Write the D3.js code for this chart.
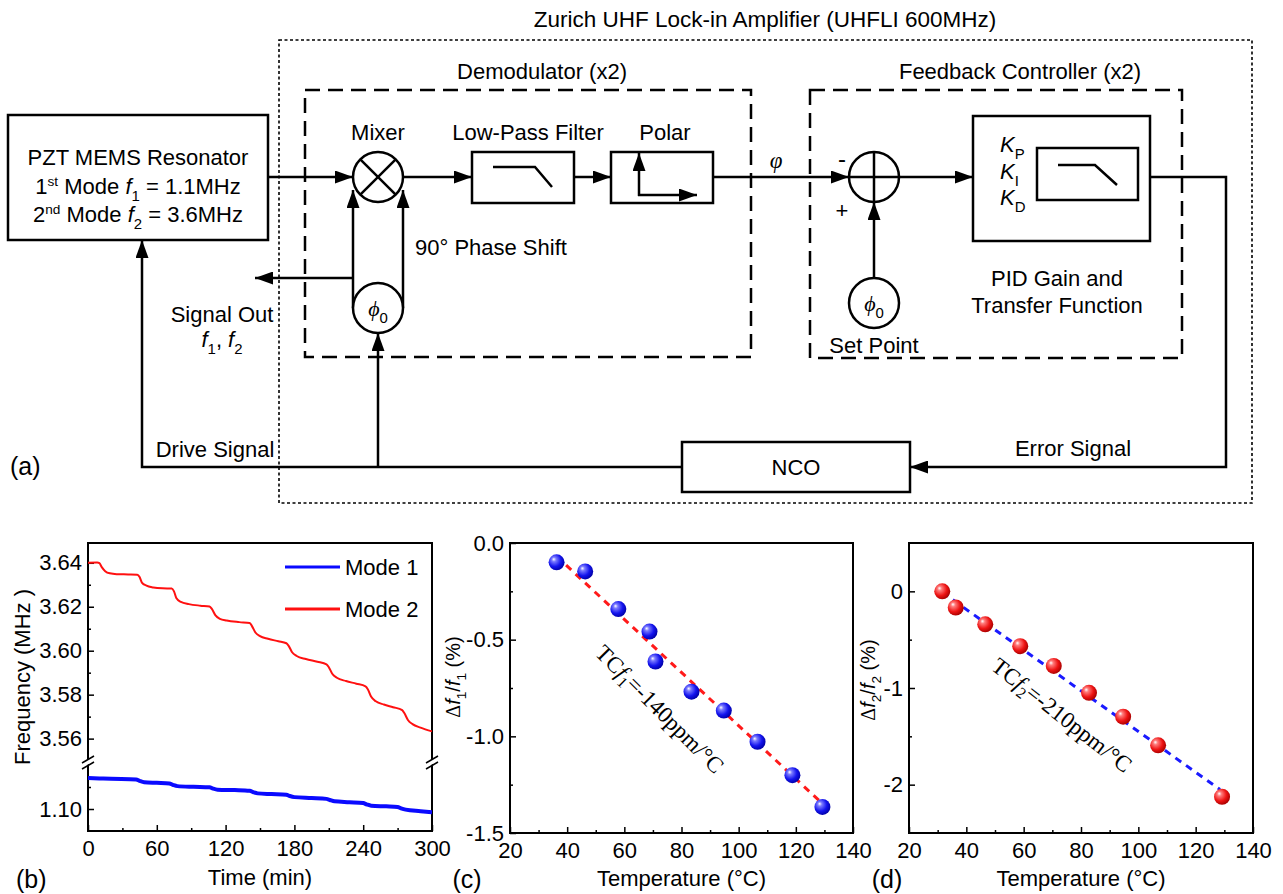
<!DOCTYPE html>
<html>
<head>
<meta charset="utf-8">
<script src="https://cdn.jsdelivr.net/npm/d3@7"></script>
<style>
  body { margin: 0; background: #fff; }
  svg text { font-family: "Liberation Sans", Arial, sans-serif; fill: #000; }
</style>
</head>
<body>
<div id="fig"></div>
<script>
// ---- data ----
// (b) frequency vs time
var timeMode2 = [0, 8, 10, 12, 15, 19, 25, 35, 43, 45, 47, 51, 57, 65, 73, 75, 77, 81, 88, 98, 106, 108, 111, 115, 121, 132, 141, 143, 146, 150, 157, 166, 173, 175, 178, 182, 190, 200, 208, 210, 213, 217, 225, 234, 242, 244, 247, 251, 258, 266, 274, 276, 279, 283, 290, 300];
var freqMode2 = [3.6400, 3.6401, 3.6398, 3.6380, 3.6362, 3.6352, 3.6348, 3.6347, 3.6346, 3.6335, 3.6310, 3.6296, 3.6288, 3.6284, 3.6283, 3.6270, 3.6240, 3.6222, 3.6212, 3.6205, 3.6201, 3.6190, 3.6162, 3.6145, 3.6137, 3.6130, 3.6126, 3.6112, 3.6083, 3.6066, 3.6054, 3.6043, 3.6034, 3.6022, 3.5993, 3.5976, 3.5962, 3.5950, 3.5938, 3.5925, 3.5895, 3.5877, 3.5862, 3.5850, 3.5838, 3.5825, 3.5790, 3.5770, 3.5755, 3.5743, 3.5730, 3.5715, 3.5685, 3.5666, 3.5650, 3.5633];
var timeMode1 = [0, 10, 20, 42, 45, 49, 60, 71, 74, 78, 92, 106, 109, 113, 128, 141, 144, 148, 160, 173, 176, 180, 195, 208, 211, 215, 228, 240, 243, 247, 260, 270, 273, 277, 290, 300];
var freqMode1 = [1.1141, 1.1139, 1.1137, 1.1134, 1.1128, 1.1122, 1.1119, 1.1116, 1.1110, 1.1104, 1.1101, 1.1099, 1.1093, 1.1088, 1.1086, 1.1083, 1.1077, 1.1071, 1.1068, 1.1065, 1.1059, 1.1054, 1.1050, 1.1046, 1.1041, 1.1035, 1.1031, 1.1027, 1.1021, 1.1015, 1.1012, 1.1009, 1.1003, 1.0997, 1.0990, 1.0985];
var timeTicks = [0, 60, 120, 180, 240, 300];
var timeMinor = [30, 90, 150, 210, 270];
var freqTicksHi = [3.56, 3.58, 3.60, 3.62, 3.64];
var freqMinorHi = [3.57, 3.59, 3.61, 3.63];
var freqTicksLo = [1.10];
var freqMinorLo = [1.11];
var modeNames = ["Mode 1", "Mode 2"];

// (c) mode 1 temperature drift
var temp1 = [36.3, 46.3, 57.9, 68.8, 70.9, 83.5, 94.8, 106.6, 118.8, 129.3];
var drift1 = [-0.100, -0.147, -0.342, -0.458, -0.613, -0.769, -0.867, -1.028, -1.201, -1.365];
var fit1T = [36.3, 129.3];
var fit1D = [-0.069, -1.348];

// (d) mode 2 temperature drift
var temp2 = [31.6, 36.3, 46.6, 58.8, 70.5, 82.8, 94.7, 106.9, 129.2];
var drift2 = [0, -0.167, -0.341, -0.567, -0.772, -1.050, -1.297, -1.593, -2.125];
var fit2T = [31.6, 128.5];
var fit2D = [-0.01, -2.05];

var tempTicks = [20, 40, 60, 80, 100, 120, 140];
var tempMinor = [30, 50, 70, 90, 110, 130];
var drift1Ticks = [-1.5, -1.0, -0.5, 0.0];
var drift1Minor = [-1.25, -0.75, -0.25];
var drift2Ticks = [-2, -1, 0];
var drift2Minor = [-1.5, -0.5];

// ---- svg ----
var svg = d3.select("#fig").append("svg")
    .attr("width", 1283)
    .attr("height", 894);
var defs = svg.append("defs");

defs.append("marker")
    .attr("id", "arr")
    .attr("viewBox", "0 0 18 13")
    .attr("refX", 18).attr("refY", 6.5)
    .attr("markerWidth", 18).attr("markerHeight", 13)
    .attr("markerUnits", "userSpaceOnUse")
    .attr("orient", "auto")
  .append("path")
    .attr("d", "M0,0L18,6.5L0,13Z")
    .attr("fill", "#000");

function sphereGrad(id, c1, c2, c3) {
  var g = defs.append("radialGradient").attr("id", id)
      .attr("cx", "40%").attr("cy", "40%").attr("r", "62%")
      .attr("fx", "32%").attr("fy", "30%");
  g.append("stop").attr("offset", "0%").attr("stop-color", "#fff");
  g.append("stop").attr("offset", "22%").attr("stop-color", c1);
  g.append("stop").attr("offset", "65%").attr("stop-color", c2);
  g.append("stop").attr("offset", "100%").attr("stop-color", c3);
}
sphereGrad("ballBlue", "#7b7bff", "#1414ee", "#0000a8");
sphereGrad("ballRed", "#ff7b7b", "#ee1414", "#a80000");

// rich text helper: parts = [[string, flags]] flags: it italic, sub, sup, serif
function rich(g, x, y, size, anchor, parts) {
  var t = g.append("text")
      .attr("x", x).attr("y", y)
      .attr("font-size", size)
      .attr("text-anchor", anchor);
  var shift = 0;
  parts.forEach(function(p) {
    var f = p[1] || "";
    var s = t.append("tspan").text(p[0]);
    var off = 0, fs = size;
    if (f.indexOf("sub") >= 0) { off = size * 0.3; fs = size * 0.68; }
    if (f.indexOf("sup") >= 0) { off = -size * 0.38; fs = size * 0.62; }
    if (f.indexOf("it") >= 0) s.attr("font-style", "italic");
    if (f.indexOf("serif") >= 0) s.style("font-family", "'Liberation Serif','Times New Roman',serif");
    s.attr("dy", off - shift).attr("font-size", fs);
    shift = off;
  });
  return t;
}

// ================= (a) block diagram =================
var dg = svg.append("g");
var lw = 2.5;

function box(x, y, w, h) {
  dg.append("rect").attr("x", x).attr("y", y).attr("width", w).attr("height", h)
    .attr("fill", "none").attr("stroke", "#000").attr("stroke-width", lw);
}
function wire(pts, arrow) {
  var p = dg.append("path").attr("d", d3.line()(pts))
    .attr("fill", "none").attr("stroke", "#000").attr("stroke-width", lw);
  if (arrow) p.attr("marker-end", "url(#arr)");
}
function ring(cx, cy, r) {
  dg.append("circle").attr("cx", cx).attr("cy", cy).attr("r", r)
    .attr("fill", "#fff").attr("stroke", "#000").attr("stroke-width", lw);
}
function label(x, y, s, anchor, size) {
  dg.append("text").attr("x", x).attr("y", y).attr("font-size", size || 22)
    .attr("text-anchor", anchor || "middle").text(s);
}

// outer dotted frame and dashed sub-blocks
dg.append("rect").attr("x", 279).attr("y", 40).attr("width", 973).attr("height", 463)
  .attr("fill", "none").attr("stroke", "#000").attr("stroke-width", 1.6)
  .attr("stroke-dasharray", "3,2.5");
dg.selectAll("rect.dash")
  .data([[305, 90, 446, 267], [810, 90, 372, 268]])
  .enter().append("rect")
  .attr("x", function(d) { return d[0]; }).attr("y", function(d) { return d[1]; })
  .attr("width", function(d) { return d[2]; }).attr("height", function(d) { return d[3]; })
  .attr("fill", "none").attr("stroke", "#000").attr("stroke-width", lw)
  .attr("stroke-dasharray", "15,8");

label(765, 27, "Zurich UHF Lock-in Amplifier (UHFLI 600MHz)", "middle", 22.5);
label(542, 79, "Demodulator (x2)");
label(1020, 79, "Feedback Controller (x2)");

// resonator
box(8, 115, 260, 125);
label(138, 165, "PZT MEMS Resonator");
rich(dg, 138, 194, 22, "middle", [["1"], ["st", "sup"], [" Mode "], ["f", "it"], ["1", "sub"], [" = 1.1MHz"]]);
rich(dg, 138, 222, 22, "middle", [["2"], ["nd", "sup"], [" Mode "], ["f", "it"], ["2", "sub"], [" = 3.6MHz"]]);

// signal path
wire([[268, 177], [353, 177]], true);
wire([[403, 177], [472, 177]], true);
wire([[574, 177], [611, 177]], true);
wire([[713, 177], [849, 177]], true);
wire([[899, 177], [973, 177]], true);
wire([[1150, 177], [1226, 177], [1226, 467], [910, 467]], true);
wire([[682, 467], [142, 467], [142, 240]], true);
wire([[378, 467], [378, 333]], true);
wire([[353, 308], [353, 190]], true);
wire([[403, 308], [403, 190]], true);
wire([[353, 278], [255, 278]], true);
wire([[874, 278], [874, 202]], true);

// mixer
ring(378, 177, 25);
var m = 25 * Math.SQRT1_2;
wire([[378 - m, 177 - m], [378 + m, 177 + m]]);
wire([[378 - m, 177 + m], [378 + m, 177 - m]]);
label(378, 140, "Mixer");

// low pass filter
box(472, 152, 102, 51);
wire([[493, 167], [535, 167], [552, 187]]);
label(528, 140, "Low-Pass Filter");

// polar
box(611, 152, 102, 51);
wire([[639, 196], [639, 153]], true);
wire([[638, 195], [697, 195]], true);
label(665, 140, "Polar");

// phase circle in demodulator
ring(378, 308, 25);
rich(dg, 378, 316, 22, "middle", [["\u03d5", "it serif"], ["0", "sub"]]);
label(415, 255, "90\u00b0 Phase Shift", "start");

// phi label
rich(dg, 776, 168, 23, "middle", [["\u03c6", "it serif"]]);

// summing junction
ring(874, 177, 25);
wire([[849, 177], [899, 177]]);
wire([[874, 152], [874, 202]]);
label(842, 167, "-", "middle", 24);
label(842, 218, "+", "middle", 22);

// set point
ring(874, 303, 25);
rich(dg, 874, 311, 22, "middle", [["\u03d5", "it serif"], ["0", "sub"]]);
label(874, 353, "Set Point");

// PID
box(973, 116, 177, 125);
box(1037, 148, 101, 52);
wire([[1058, 165], [1095, 165], [1117, 185]]);
rich(dg, 1000, 152, 22, "start", [["K", "it"], ["P", "sub"]]);
rich(dg, 1000, 179, 22, "start", [["K", "it"], ["I", "sub"]]);
rich(dg, 1000, 205, 22, "start", [["K", "it"], ["D", "sub"]]);
label(1057, 286, "PID Gain and");
label(1057, 313, "Transfer Function");

// NCO
box(682, 442, 228, 50);
label(796, 475, "NCO");

label(222, 322, "Signal Out");
rich(dg, 222, 347, 22, "middle", [["f", "it"], ["1", "sub"], [", "], ["f", "it"], ["2", "sub"]]);
label(215, 457, "Drive Signal");
label(1073, 456, "Error Signal");
label(10, 475, "(a)", "start", 25);

// ================= shared chart helpers =================
var hyph = function(f) { return function(d) { return f(d).replace("\u2212", "-"); }; };

function styleAxis(sel) {
  sel.select(".domain").remove();
  sel.selectAll("line").attr("stroke", "#000").attr("stroke-width", 1.5);
  sel.selectAll("text").attr("font-size", 22).attr("fill", "#000")
    .style("font-family", "'Liberation Sans', Arial, sans-serif");
}

function frame(g, x0, y0, x1, y1) {
  g.append("rect").attr("x", x0).attr("y", y0).attr("width", x1 - x0).attr("height", y1 - y0)
    .attr("fill", "none").attr("stroke", "#000").attr("stroke-width", 2);
}

function xAxes(g, x, yBase, major, minor, fmt) {
  g.append("g").attr("transform", "translate(0," + yBase + ")")
    .call(d3.axisBottom(x).tickValues(major).tickSizeInner(-6).tickSizeOuter(0)
      .tickPadding(9).tickFormat(fmt)).call(styleAxis);
  g.append("g").attr("transform", "translate(0," + yBase + ")")
    .call(d3.axisBottom(x).tickValues(minor).tickSizeInner(-3).tickSizeOuter(0)
      .tickFormat("")).call(styleAxis);
}

function yAxes(g, y, xBase, major, minor, fmt) {
  g.append("g").attr("transform", "translate(" + xBase + ",0)")
    .call(d3.axisLeft(y).tickValues(major).tickSizeInner(-6).tickSizeOuter(0)
      .tickPadding(6).tickFormat(fmt)).call(styleAxis);
  g.append("g").attr("transform", "translate(" + xBase + ",0)")
    .call(d3.axisLeft(y).tickValues(minor).tickSizeInner(-3).tickSizeOuter(0)
      .tickFormat("")).call(styleAxis);
}

// ================= (b) frequency vs time =================
var gb = svg.append("g");
var xB = d3.scaleLinear().domain([0, 300]).range([88, 432]);
var yHi = d3.scaleLinear().domain([3.548, 3.649]).range([765, 543]);
var yLo = d3.scaleLinear().domain([1.09, 1.12]).range([831, 765]);

xAxes(gb, xB, 831, timeTicks, timeMinor, d3.format("d"));
yAxes(gb, yHi, 88, freqTicksHi, freqMinorHi, d3.format(".2f"));
yAxes(gb, yLo, 88, freqTicksLo, freqMinorLo, d3.format(".2f"));
frame(gb, 88, 543, 432, 831);

// axis breaks
[88, 432].forEach(function(xb) {
  gb.append("path").attr("d", "M" + (xb - 6) + ",768L" + (xb + 6) + ",761L" + (xb + 6) + ",756L" + (xb - 6) + ",763Z")
    .attr("fill", "#fff").attr("stroke", "none");
  gb.append("line").attr("x1", xb - 6).attr("y1", 763).attr("x2", xb + 6).attr("y2", 756)
    .attr("stroke", "#000").attr("stroke-width", 1.5);
  gb.append("line").attr("x1", xb - 6).attr("y1", 769).attr("x2", xb + 6).attr("y2", 762)
    .attr("stroke", "#000").attr("stroke-width", 1.5);
});

var lineB2 = d3.line()
  .x(function(d, i) { return xB(timeMode2[i]); })
  .y(function(d) { return yHi(d); })
  .curve(d3.curveMonotoneX);
var lineB1 = d3.line()
  .x(function(d, i) { return xB(timeMode1[i]); })
  .y(function(d) { return yLo(d); })
  .curve(d3.curveMonotoneX);

gb.append("path").attr("d", lineB1(freqMode1))
  .attr("fill", "none").attr("stroke", "#0a0aff").attr("stroke-width", 4);
gb.append("path").attr("d", lineB2(freqMode2))
  .attr("fill", "none").attr("stroke", "#ff1010").attr("stroke-width", 2);

// legend
var legColors = ["#0a0aff", "#ff1010"];
modeNames.forEach(function(n, i) {
  var ly = 567 + i * 42;
  gb.append("line").attr("x1", 285).attr("x2", 340).attr("y1", ly).attr("y2", ly)
    .attr("stroke", legColors[i]).attr("stroke-width", 3);
  gb.append("text").attr("x", 345).attr("y", ly + 8).attr("font-size", 22).text(n);
});

gb.append("text").attr("transform", "translate(30,677) rotate(-90)")
  .attr("text-anchor", "middle").attr("font-size", 22).text("Frequency (MHz )");
gb.append("text").attr("x", 260).attr("y", 885).attr("text-anchor", "middle")
  .attr("font-size", 22).text("Time (min)");
gb.append("text").attr("x", 16).attr("y", 888).attr("font-size", 25).text("(b)");

// ================= scatter panels =================
function scatterPanel(opt) {
  var g = svg.append("g");
  var x = d3.scaleLinear().domain([20, 140]).range([opt.x0, opt.x1]);
  var y = d3.scaleLinear().domain(opt.yDomain).range([833, 543]);

  xAxes(g, x, 833, tempTicks, tempMinor, d3.format("d"));
  yAxes(g, y, opt.x0, opt.yTicks, opt.yMinor, hyph(d3.format(opt.yFmt)));
  frame(g, opt.x0, 543, opt.x1, 833);

  g.append("path")
    .attr("d", d3.line().x(function(d, i) { return x(opt.fitT[i]); }).y(function(d) { return y(d); })(opt.fitD))
    .attr("fill", "none").attr("stroke", opt.fitColor).attr("stroke-width", 3)
    .attr("stroke-dasharray", "7,6");

  g.selectAll("circle.pt").data(opt.vals).enter().append("circle")
    .attr("cx", function(d, i) { return x(opt.temps[i]); })
    .attr("cy", function(d) { return y(d); })
    .attr("r", 8)
    .attr("fill", "url(#" + opt.ball + ")");

  // annotation
  var a = rich(g, 0, 0, 23, "middle", [["TC", "serif"], ["f", "it serif"], [opt.sub, "sub serif"], [opt.tc, "serif"]]);
  a.attr("dominant-baseline", "central")
   .attr("transform", "translate(" + opt.ann[0] + "," + opt.ann[1] + ") rotate(" + opt.ann[2] + ")");

  // y label
  var yl = rich(g, 0, 0, 20, "middle", [["\u0394", "serif"], ["f", "it"], [opt.sub, "sub"], ["/"], ["f", "it"], [opt.sub, "sub"], [" (%)"]]);
  yl.attr("transform", "translate(" + opt.ylab[0] + "," + opt.ylab[1] + ") rotate(-90)");

  g.append("text").attr("x", (opt.x0 + opt.x1) / 2).attr("y", 886).attr("text-anchor", "middle")
    .attr("font-size", 22).text("Temperature (\u00b0C)");
  g.append("text").attr("x", opt.letterX).attr("y", 888).attr("text-anchor", "middle")
    .attr("font-size", 25).text(opt.letter);
}

scatterPanel({
  x0: 510, x1: 853, yDomain: [-1.5, 0], yTicks: drift1Ticks, yMinor: drift1Minor, yFmt: ".1f",
  temps: temp1, vals: drift1, fitT: fit1T, fitD: fit1D, fitColor: "#ff1a1a", ball: "ballBlue",
  sub: "1", tc: "=-140ppm/\u00b0C", ann: [660, 709, 45], ylab: [460, 677], letter: "(c)", letterX: 467
});

scatterPanel({
  x0: 909, x1: 1253, yDomain: [-2.5, 0.5], yTicks: drift2Ticks, yMinor: drift2Minor, yFmt: "d",
  temps: temp2, vals: drift2, fitT: fit2T, fitD: fit2D, fitColor: "#1a1aff", ball: "ballRed",
  sub: "2", tc: "=-210ppm/\u00b0C", ann: [1062, 715, 38], ylab: [875, 680], letter: "(d)", letterX: 887
});
</script>
</body>
</html>
